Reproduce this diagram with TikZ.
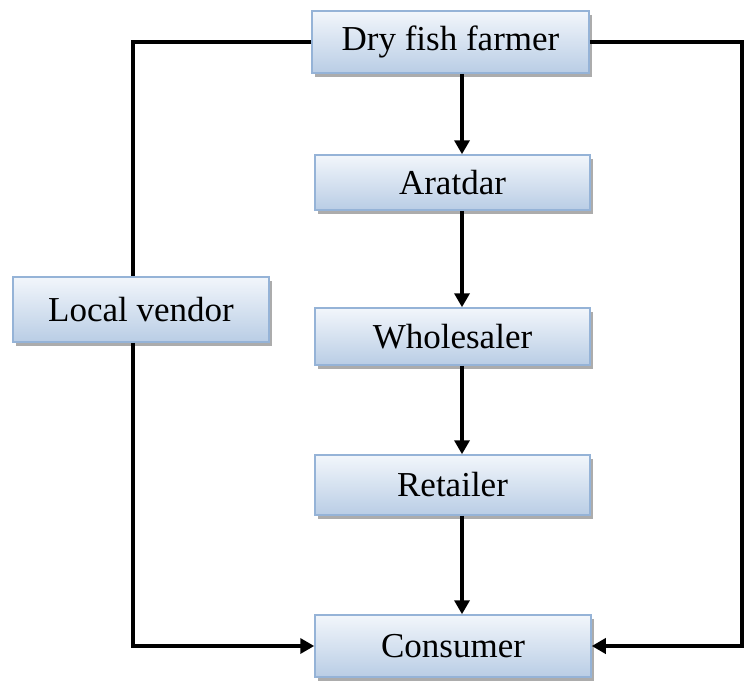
\documentclass[tikz,border=0pt]{standalone}
\usepackage{fontspec}
\setmainfont{Liberation Serif}
\usetikzlibrary{arrows.meta,shadows}
\definecolor{boxtop}{HTML}{F2F6FB}
\definecolor{boxbot}{HTML}{B9CDE5}
\definecolor{boxline}{HTML}{95B3D7}
\tikzset{
  chainbox/.style={draw=boxline, line width=1.5pt, top color=boxtop, bottom color=boxbot,
    inner sep=0pt, font=\fontsize{35}{40}\selectfont,
    drop shadow={shadow xshift=3pt, shadow yshift=-4pt, fill=gray!65, opacity=1}},
  link/.style={line width=3.5pt, draw=black},
  arr/.style={link, -{Triangle[length=14pt,width=15pt]}}
}
\begin{document}
\begin{tikzpicture}[x=1pt,y=-1pt]
\useasboundingbox (0,0) rectangle (744,680);
\node[chainbox, minimum width=277pt, minimum height=62pt] (farmer) at (450.5,42) {Dry fish farmer};
\node[chainbox, minimum width=275pt, minimum height=55pt] (aratdar) at (452.5,182.5) {Aratdar};
\node[chainbox, minimum width=275pt, minimum height=57pt] (whole) at (452.5,336.5) {Wholesaler};
\node[chainbox, minimum width=275pt, minimum height=60pt] (retail) at (452.5,485) {Retailer};
\node[chainbox, minimum width=276pt, minimum height=62pt] (consumer) at (453,646) {Consumer};
\node[chainbox, minimum width=256pt, minimum height=65pt] (vendor) at (141,309.5) {Local vendor};
\coordinate (L) at (133,0);
\coordinate (R) at (742,0);
\draw[arr] (farmer.south -| 462,0) -- (aratdar.north -| 462,0);
\draw[arr] (aratdar.south -| 462,0) -- (whole.north -| 462,0);
\draw[arr] (whole.south -| 462,0) -- (retail.north -| 462,0);
\draw[arr] (retail.south -| 462,0) -- (consumer.north -| 462,0);
\draw[link] (farmer.west) -- (farmer.west -| L) -- (vendor.north -| L);
\draw[arr] (vendor.south -| L) -- (consumer.west -| L) -- (consumer.west);
\draw[arr] (farmer.east) -- (farmer.east -| R) -- (consumer.east -| R) -- (consumer.east);
\end{tikzpicture}
\end{document}
